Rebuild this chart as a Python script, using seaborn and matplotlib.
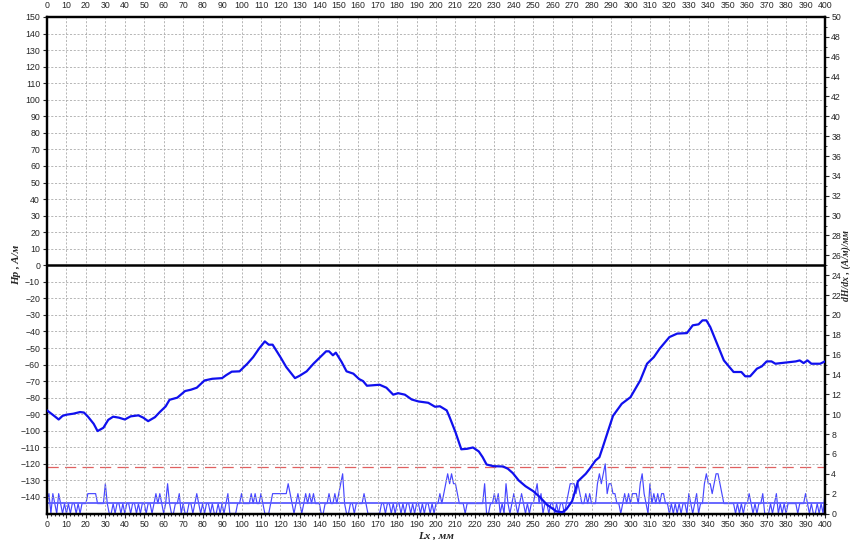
import numpy as np
import pandas as pd
import matplotlib
matplotlib.use("Agg")
import matplotlib.pyplot as plt
import seaborn as sns

# Hp curve (left axis)
lx = [0, 4, 6, 8, 10, 13.5, 17, 19, 21, 24,
      26, 29, 31.5, 34, 37, 40, 43, 47, 49.5, 52,
      55.5, 58, 61, 63, 67, 71, 74, 77, 81, 85,
      90, 92, 95, 99, 103, 106, 109, 111, 112, 114,
      116, 120, 123, 127.5, 130, 133.5, 137, 140.5, 143.5, 145,
      147, 148.5, 151.5, 154, 157.5, 160.5, 162.5, 164.5, 171, 174.5,
      178, 180.5, 184, 187.5, 191, 196, 199.5, 202, 205.5, 207,
      210, 213, 216, 219, 222, 224, 226, 229.5, 234.5, 237,
      239.5, 242.5, 246, 250, 253.5, 257, 262, 265, 267, 270,
      273, 277, 279, 282, 284, 286, 288.5, 291, 295.5, 300,
      302.5, 305, 308.5, 312, 315, 320, 324, 329, 332, 335,
      337, 339, 341, 344.5, 348, 353, 357, 359, 361.5, 365,
      367.5, 370, 372.5, 374.5, 382, 385, 387, 389, 391, 393,
      397.5, 400]
hp = [-87.7, -91.3, -93.2, -91, -90.3, -89.7, -88.7, -89, -91.4, -95.8,
      -100.2, -98.2, -93.4, -91.5, -92.1, -93.2, -91.3, -90.7, -92.1, -94.2,
      -91.8, -88.7, -85.3, -81.3, -80, -76, -75.2, -74, -69.6, -68.6,
      -68.2, -66.5, -64.3, -64.1, -59.5, -55.5, -50.4, -47.4, -46, -48,
      -48, -55.5, -61.5, -68.2, -66.7, -64.1, -59.5, -55.5, -52, -52,
      -54.4, -52.8, -58.5, -64.1, -65.5, -68.8, -70, -72.8, -72.2, -74,
      -78.2, -77.3, -78.2, -81.1, -82.3, -83.1, -85.5, -85.2, -87.7, -91.8,
      -100.8, -111.2, -110.9, -110.1, -112.5, -116, -120.4, -121.4, -121.6, -123,
      -125.6, -130, -133.5, -136.5, -140.2, -144.6, -148.8, -149.2, -147.5, -142.5,
      -130.5, -126, -123, -118, -116, -109, -100, -91, -83.7, -79.7,
      -74.6, -69.6, -59.5, -55.5, -50.4, -43.4, -41.3, -41, -36.3, -35.7,
      -33.3, -33.3, -37.3, -47.4, -57.5, -64.5, -64.5, -67.1, -67.1, -62.5,
      -61.1, -58.1, -58.1, -59.5, -58.5, -58.1, -57.5, -59.1, -57.5, -59.5,
      -59.5, -58.1]

# dH/dx (right axis), one value per mm
dhdx = [1, 2, 0, 2, 1, 0, 2, 1, 0, 1,
        0, 1, 0, 1, 1, 0, 1, 0, 1, 1,
        1, 2, 2, 2, 2, 2, 1, 1, 1, 1,
        3, 1, 0, 0, 1, 0, 1, 1, 0, 1,
        0, 1, 1, 0, 1, 1, 0, 1, 0, 1,
        1, 0, 1, 1, 0, 1, 2, 1, 2, 1,
        0, 1, 3, 1, 0, 0, 1, 1, 2, 0,
        1, 0, 0, 1, 1, 0, 1, 2, 1, 0,
        1, 0, 1, 1, 0, 1, 0, 0, 1, 0,
        1, 0, 1, 2, 0, 0, 0, 0, 1, 1,
        2, 1, 1, 1, 1, 2, 1, 2, 1, 1,
        2, 1, 0, 0, 0, 1, 2, 2, 2, 2,
        2, 2, 2, 2, 3, 2, 1, 0, 1, 2,
        1, 0, 1, 2, 1, 2, 1, 2, 1, 1,
        1, 0, 0, 1, 1, 2, 1, 1, 2, 1,
        2, 3, 4, 1, 0, 0, 1, 1, 0, 1,
        1, 1, 1, 2, 1, 0, 0, 0, 0, 0,
        0, 0, 1, 1, 0, 1, 1, 0, 1, 0,
        1, 1, 0, 1, 0, 1, 1, 0, 1, 0,
        1, 1, 0, 1, 0, 1, 1, 0, 1, 0,
        1, 1, 2, 1, 2, 3, 4, 3, 4, 3,
        3, 2, 1, 1, 1, 0, 1, 1, 1, 1,
        1, 1, 1, 1, 1, 3, 0, 0, 1, 1,
        2, 1, 2, 0, 1, 0, 3, 1, 0, 1,
        2, 1, 0, 1, 2, 1, 0, 1, 0, 1,
        1, 2, 3, 1, 2, 0, 1, 1, 0, 1,
        1, 0, 1, 0, 1, 1, 0, 1, 2, 3,
        3, 3, 2, 3, 2, 1, 1, 2, 1, 2,
        1, 1, 1, 3, 4, 3, 4, 5, 2, 3,
        3, 2, 2, 1, 1, 0, 1, 2, 1, 2,
        1, 2, 2, 2, 1, 3, 4, 2, 1, 0,
        3, 1, 2, 1, 2, 1, 2, 2, 1, 1,
        0, 1, 0, 1, 0, 1, 0, 1, 1, 0,
        2, 1, 0, 1, 2, 0, 1, 1, 3, 4,
        3, 3, 2, 3, 4, 4, 3, 2, 1, 1,
        1, 1, 1, 1, 0, 1, 0, 1, 0, 1,
        1, 2, 1, 0, 1, 0, 1, 1, 2, 0,
        0, 0, 1, 0, 1, 2, 0, 1, 0, 1,
        0, 1, 1, 1, 1, 1, 0, 1, 1, 1,
        2, 1, 0, 1, 0, 0, 1, 0, 1, 0,
        2]
dx_mm = list(range(0, 401))

mean_level = 1.1    # solid blue level on right axis
limit_level = 4.7   # red dashed level on right axis

sns.set_style("white")
plt.rcParams['font.family'] = ['Liberation Sans', 'DejaVu Sans']

fig = plt.figure(figsize=(8.5, 5.4), dpi=100)
ax = fig.add_axes([47/850, 1-513.5/540, 778/850, 496.5/540])
ax2 = ax.twinx()
ax.set_zorder(ax2.get_zorder() + 1)
ax.patch.set_visible(False)

# right axis: derivative, threshold lines
sns.lineplot(x=dx_mm, y=dhdx, ax=ax2, color='#4646ff', linewidth=0.85, sort=False)
ax2.axhline(mean_level, color='#5c5cff', linewidth=1.3)
ax2.axhline(limit_level, color='#e06060', linewidth=0.9, dashes=(9, 5))
ax2.set_ylim(0, 50)
ax2.set_yticks(range(0, 51, 2))
ax2.set_yticks(range(1, 50, 2), minor=True)

# left axis: Hp
ax.axhline(0, color='black', linewidth=1.8, zorder=3)
sns.lineplot(x=lx, y=hp, ax=ax, color='#1010ee', linewidth=1.6, sort=False, zorder=4)
ax.set_xlim(0, 400)
ax.set_ylim(-150, 150)
ax.set_xticks(range(0, 401, 10))
ax.set_xticks(range(0, 401, 2), minor=True)
ax.set_yticks(range(-140, 151, 10))
ax.grid(True, which='major', color='#ababab', linestyle=(0, (2.5, 2)), linewidth=0.6)

ax.tick_params(axis='x', which='both', bottom=True, top=False, labeltop=True,
               labelsize=6.3, direction='out', length=3, pad=2, width=0.8)
ax.tick_params(axis='x', which='minor', length=1.5)
ax.tick_params(axis='y', which='both', left=True, labelsize=6.3, direction='out', length=3, pad=2, width=0.8)
ax2.tick_params(axis='y', which='major', right=True, labelsize=6.3, direction='out', length=3, pad=1.5, width=0.8)
ax2.tick_params(axis='y', which='minor', right=True, length=1.5)

for a in (ax, ax2):
    for s in a.spines.values():
        s.set_color('black')
        s.set_linewidth(1.6)

ax.set_xlabel('Lx , мм', fontsize=8, family='Liberation Serif', style='italic',
              fontweight='bold', va='center')
ax.xaxis.set_label_coords(0.5, -22.5/496.5)
ax.set_ylabel('Hp , A/м', fontsize=8, family='Liberation Serif', style='italic',
              fontweight='bold', va='center')
ax.yaxis.set_label_coords(-30/778, 0.5)
ax2.set_ylabel('dH/dx , (A/м)/мм', fontsize=7, family='Liberation Serif', style='italic',
               fontweight='bold', va='center')
ax2.yaxis.set_label_coords(1 + 21/778, 0.5)

fig.savefig('out.png', dpi=100)
